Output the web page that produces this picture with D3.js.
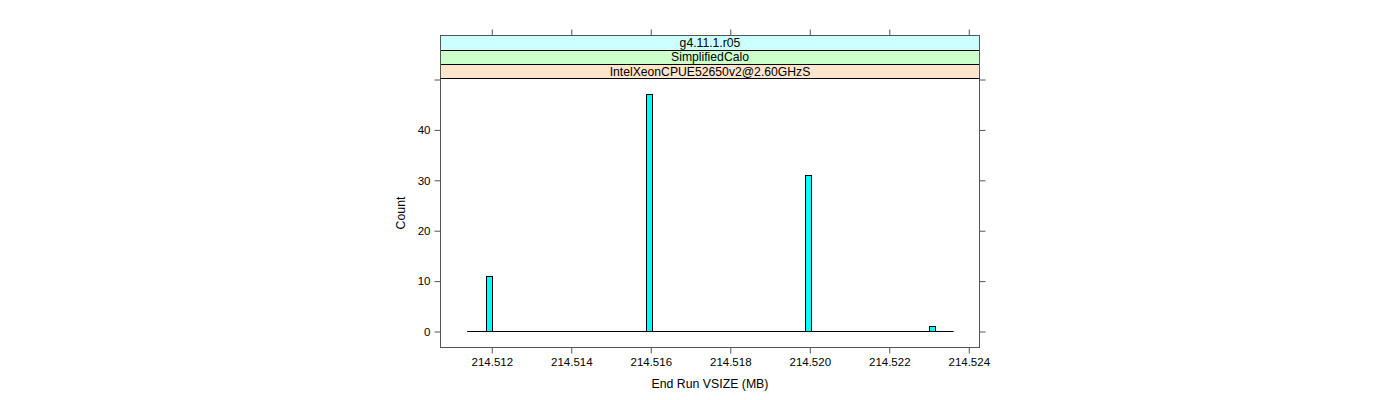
<!DOCTYPE html>
<html><head><meta charset="utf-8">
<script src="https://cdn.jsdelivr.net/npm/d3@7"></script>
<style>body{margin:0;background:#fff;} text{font-family:"Liberation Sans",Arial,sans-serif;}</style>
</head><body><svg id="c" width="1400" height="400"></svg>
<script>
const binStarts = [214.51185, 214.51587, 214.51987, 214.52300];
const binEnds   = [214.51201, 214.51603, 214.52003, 214.52316];
const counts    = [11, 47, 31, 1];
const breakRange = [214.51138, 214.52362];
const xTicks = [214.512, 214.514, 214.516, 214.518, 214.520, 214.522, 214.524];
const yTicks = [0, 10, 20, 30, 40, 50];
const yLabels = ["0", "10", "20", "30", "40", ""];
const stripLabels = ["g4.11.1.r05", "SimplifiedCalo", "IntelXeonCPUE52650v2@2.60GHzS"];
const stripColors = ["#CCFFFF", "#CCFFCC", "#FFE5CC"];

const L = 440.5, R = 979.5, T = 78.5, B = 347.5;
const svg = d3.select("#c");
const x = d3.scaleLinear().domain([214.51071, 214.52427]).range([L, R]);
const y = d3.scaleLinear().domain([-3.17, 50.2]).range([B, T]);
const axisCol = "#555";

// strips
const stripTop = 35.5, stripH = (T - stripTop) / 3;
stripLabels.forEach((s, i) => {
  const yy = stripTop + i * stripH;
  svg.append("rect").attr("x", L).attr("y", yy).attr("width", R - L).attr("height", stripH)
    .attr("fill", stripColors[i]);
  svg.append("text").attr("x", (L + R) / 2).attr("y", yy + stripH / 2 + 4.3).attr("text-anchor", "middle")
    .attr("font-size", "12.2px").attr("fill", "#000").text(s);
});
[1, 2].forEach(i => {
  const yy = Math.round(stripTop + i * stripH) + 0.5;
  svg.append("line").attr("x1", L).attr("x2", R).attr("y1", yy).attr("y2", yy).attr("stroke", "#000");
});
svg.append("rect").attr("x", L).attr("y", stripTop).attr("width", R - L).attr("height", T - stripTop)
  .attr("fill", "none").attr("stroke", axisCol);

const y0 = Math.floor(y(0)) + 0.5;
// baseline
svg.append("line").attr("x1", x(breakRange[0])).attr("x2", x(breakRange[1]))
  .attr("y1", y0).attr("y2", y0).attr("stroke", "#000").attr("stroke-width", 1);

// bars
svg.selectAll("rect.bar").data(counts).enter().append("rect").attr("class", "bar")
  .attr("x", (d, i) => Math.round(x(binStarts[i])) + 0.5)
  .attr("width", (d, i) => Math.round(x(binEnds[i])) - Math.round(x(binStarts[i])))
  .attr("y", d => Math.floor(y(d)) + 0.5)
  .attr("height", d => y0 - (Math.floor(y(d)) + 0.5))
  .attr("fill", "#00FFFF").attr("stroke", "#000").attr("stroke-width", 1);

// panel border
svg.append("rect").attr("x", L).attr("y", T).attr("width", R - L).attr("height", B - T)
  .attr("fill", "none").attr("stroke", axisCol).attr("stroke-width", 1);
svg.append("line").attr("x1", L).attr("x2", R).attr("y1", T).attr("y2", T).attr("stroke", "#000");

// x axis bottom
const xb = svg.append("g").attr("transform", `translate(0,${B})`)
  .call(d3.axisBottom(x).tickValues(xTicks).tickFormat(d3.format(".3f")).tickSize(6).tickPadding(4));
// x axis top (above strips)
const xt = svg.append("g").attr("transform", `translate(0,${stripTop})`)
  .call(d3.axisTop(x).tickValues(xTicks).tickFormat("").tickSize(6));
// y axis left
const yl = svg.append("g").attr("transform", `translate(${L},0)`)
  .call(d3.axisLeft(y).tickValues(yTicks).tickFormat((d, i) => yLabels[i]).tickSize(6).tickPadding(4));
// y axis right
const yr = svg.append("g").attr("transform", `translate(${R},0)`)
  .call(d3.axisRight(y).tickValues(yTicks).tickFormat("").tickSize(6));
[xb, xt, yl, yr].forEach(g => {
  g.select(".domain").remove();
  g.selectAll(".tick line").attr("stroke", axisCol);
  g.selectAll("text").attr("font-size", "11.5px").attr("fill", "#000")
    .attr("font-family", '"Liberation Sans",Arial,sans-serif');
});

// axis titles
svg.append("text").attr("x", (L + R) / 2).attr("y", 388).attr("text-anchor", "middle")
  .attr("font-size", "12.3px").attr("fill", "#000").text("End Run VSIZE (MB)");
svg.append("text").attr("transform", `translate(405,${(T + B) / 2}) rotate(-90)`)
  .attr("text-anchor", "middle").attr("font-size", "12.3px").attr("fill", "#000").text("Count");
</script></body></html>
